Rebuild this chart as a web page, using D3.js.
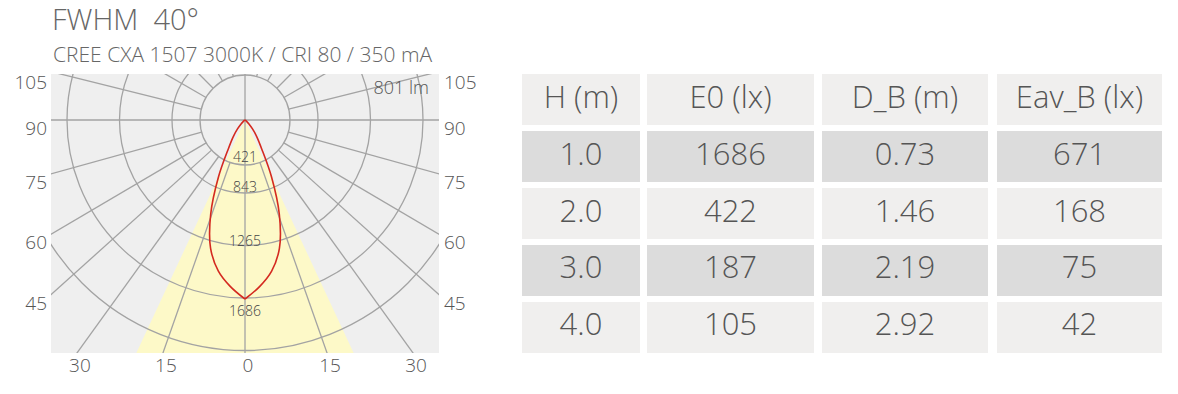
<!DOCTYPE html>
<html>
<head>
<meta charset="utf-8">
<script src="https://cdn.jsdelivr.net/npm/d3@7"></script>
<style>
  body { margin: 0; background: #fff; }
  svg text { font-family: "Open Sans", "Noto Sans", sans-serif; font-weight: 300; fill: #555; }
</style>
</head>
<body>
<div id="chart"></div>
<script>
// ---- data ----
const title = "FWHM  40°";
const subtitle = "CREE CXA 1507 3000K / CRI 80 / 350 mA";
const flux = "801 lm";

// luminous intensity (cd) against gamma angle (deg), symmetric
const gammaAngles = [0, 5, 10, 15, 20, 25, 30, 35, 40, 45, 50, 60, 70, 80, 90];
const intensity = [1686, 1575, 1445, 1252, 945, 590, 315, 194, 110, 50, 20, 5, 0, 0, 0];
const ringValues = [421, 843, 1265, 1686];
const beamHalfAngle = 25;

// angle labels on the frame
const sideTicks = [105, 90, 75, 60, 45];
const bottomTicks = [-30, -15, 0, 15, 30];

// table
const headers = ["H (m)", "E0 (lx)", "D_B (m)", "Eav_B (lx)"];
const heights = ["1.0", "2.0", "3.0", "4.0"];
const e0 = [1686, 422, 187, 105];
const dB = ["0.73", "1.46", "2.19", "2.92"];
const eavB = [671, 168, 75, 42];

// ---- layout ----
const W = 1178, H = 394;
const plot = { x0: 51, x1: 439, y0: 74, y1: 353 };
const cx = 245, cy = 120;
const hubR = 45;
const gridRadii = [45, 73, 125.5, 178, 230.5];   // circles as drawn
const gridColor = "#a3a3a3";
// the grid spokes of the original are not evenly spread: gamma -> drawn angle
const spokeAngle = d3.scaleLinear()
  .domain([0, 15, 30, 45, 60, 75, 90, 105, 120, 135, 150, 165, 180])
  .range([0, 19.4, 35.8, 48, 59.5, 74.5, 90, 104, 120, 135, 150, 165, 180]);

const svg = d3.select("#chart").append("svg")
  .attr("width", W).attr("height", H);

svg.append("text").attr("x", 52).attr("y", 30)
  .style("font-size", "29px").style("fill", "#666").style("white-space", "pre")
  .text(title);
svg.append("text").attr("x", 53).attr("y", 62)
  .style("font-size", "21px").style("fill", "#666").text(subtitle);

// clip for the polar panel
svg.append("clipPath").attr("id", "plotClip")
  .append("rect")
  .attr("x", plot.x0).attr("y", plot.y0)
  .attr("width", plot.x1 - plot.x0).attr("height", plot.y1 - plot.y0);

svg.append("rect")
  .attr("x", plot.x0).attr("y", plot.y0)
  .attr("width", plot.x1 - plot.x0).attr("height", plot.y1 - plot.y0)
  .attr("fill", "#efefef");

const g = svg.append("g").attr("clip-path", "url(#plotClip)")
  .append("g").attr("transform", `translate(${cx},${cy})`);

// intensity -> radius
const r = d3.scaleLinear().domain([0, 1686]).range([0, 179]);
const rad = d => d * Math.PI / 180;
// gamma 0 points down; positive gamma to the right
const ang = gamma => Math.PI - rad(gamma);
const spokeRad = gamma => Math.PI - Math.sign(gamma) * rad(spokeAngle(Math.abs(gamma)));

// beam cone
g.append("path")
  .attr("d", d3.arc()({ innerRadius: 0, outerRadius: 500,
    startAngle: ang(beamHalfAngle), endAngle: ang(-beamHalfAngle) }))
  .attr("fill", "#fdf9c8");

// grid circles
g.selectAll("circle.grid").data(gridRadii).join("circle")
  .attr("class", "grid").attr("r", d => d)
  .attr("fill", "none").attr("stroke", gridColor).attr("stroke-width", 1.3);

// radial lines every 15 deg, starting at the hub except the axes
const spokes = d3.range(-165, 181, 15);
g.selectAll("line.spoke").data(spokes).join("line")
  .attr("class", "spoke")
  .each(function (d) {
    const r0 = (d % 90 === 0) ? 0 : hubR;
    const p0 = d3.pointRadial(spokeRad(d), r0);
    const p1 = d3.pointRadial(spokeRad(d), 600);
    d3.select(this).attr("x1", p0[0]).attr("y1", p0[1]).attr("x2", p1[0]).attr("y2", p1[1]);
  })
  .attr("stroke", gridColor).attr("stroke-width", 1.3);

// intensity curve, drawn as two halves so the peak stays pointed
const pts = gammaAngles.map((a, i) => ({ a, v: intensity[i] }));
const radial = side => d3.lineRadial()
  .angle(d => ang(side * d.a))
  .radius(d => r(d.v))
  .curve(d3.curveCatmullRom);
[1, -1].forEach(side => {
  g.append("path").attr("d", radial(side)(pts))
    .attr("fill", "none").attr("stroke", "#d42a20").attr("stroke-width", 1.6);
});

// ring values on the axis
const ringLabelDy = [-3, -1, 0, 18];
g.selectAll("text.ring").data(ringValues).join("text")
  .attr("class", "ring")
  .attr("x", 0)
  .attr("y", (d, i) => gridRadii[i] + ringLabelDy[i])
  .attr("text-anchor", "middle")
  .style("font-size", "14px").style("fill", "#444")
  .text(d => d);

// flux
svg.append("text").attr("x", 429).attr("y", 94).attr("text-anchor", "end")
  .style("font-size", "18px").style("fill", "#555").text(flux);

// frame labels: where each spoke meets the left / right edge
const edgeY = gamma => cy + (cx - plot.x0) / Math.tan(rad(spokeAngle(gamma)));
const sideG = svg.append("g").style("font-size", "19px");
sideG.selectAll("text.left").data(sideTicks).join("text")
  .attr("x", 47).attr("y", d => Math.max(edgeY(d), plot.y0) + 15)
  .attr("text-anchor", "end").text(d => d);
sideG.selectAll("text.right").data(sideTicks).join("text")
  .attr("x", 444).attr("y", d => Math.max(edgeY(d), plot.y0) + 15)
  .attr("text-anchor", "start").text(d => d);
const edgeX = gamma => cx + Math.sign(gamma) * (plot.y1 - cy) * Math.tan(rad(spokeAngle(Math.abs(gamma))));
sideG.selectAll("text.bottom").data(bottomTicks).join("text")
  .attr("x", d => edgeX(d) + 3).attr("y", 372)
  .attr("text-anchor", "middle").text(d => Math.abs(d));

// ---- table ----
const colX = [522, 647, 822, 997];
const colW = [118, 167, 166, 165];
const rows = d3.scaleBand().domain(d3.range(5)).range([74, 353]).paddingInner(0.105);
const tableRows = [headers].concat(heights.map((h, i) => [h, e0[i], dB[i], eavB[i]]));

const tg = svg.append("g");
tableRows.forEach((row, ri) => {
  row.forEach((val, ci) => {
    tg.append("rect")
      .attr("x", colX[ci]).attr("y", rows(ri))
      .attr("width", colW[ci]).attr("height", rows.bandwidth())
      .attr("fill", ri % 2 === 1 ? "#dcdcdc" : "#f0efee");
    tg.append("text")
      .attr("x", colX[ci] + colW[ci] / 2)
      .attr("y", rows(ri) + rows.bandwidth() / 2 + 8)
      .attr("text-anchor", "middle")
      .style("font-size", "31px").style("fill", "#555")
      .text(val);
  });
});
</script>
</body>
</html>
